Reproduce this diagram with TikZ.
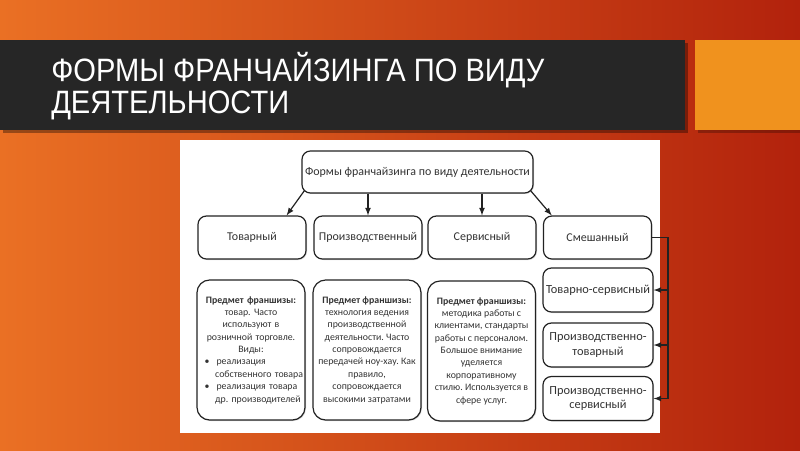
\documentclass[tikz,border=0pt]{standalone}
\usepackage{fontspec}
\setmainfont{Carlito}
\newfontfamily\titlefont[FakeStretch=0.9]{Liberation Sans}
\usetikzlibrary{shadows}
\frenchspacing

\definecolor{bgleft}{RGB}{234,112,36}
\definecolor{bgmid}{RGB}{216,80,26}
\definecolor{bgright}{RGB}{178,34,12}
\definecolor{titlebar}{RGB}{38,38,38}
\definecolor{accent}{RGB}{240,146,30}
\definecolor{boxline}{RGB}{34,34,34}
\definecolor{boxtext}{RGB}{51,51,51}

\tikzset{
  box/.style={draw=boxline, line width=0.85pt, rounded corners=6pt, fill=white,
    text=boxtext, align=center, inner sep=1pt,
    drop shadow={opacity=0.3, shadow xshift=0.7pt, shadow yshift=-0.7pt}},
  kind/.style={minimum width=2.7cm, minimum height=1.075cm, font=\fontsize{8.5}{10}\selectfont},
  about/.style={minimum width=2.7cm, minimum height=3.5cm, rounded corners=9pt,
    font=\fontsize{7}{8.8}\selectfont},
  mixed/.style={minimum width=2.75cm, minimum height=1.1cm, font=\fontsize{8.8}{10.5}\selectfont}
}

\begin{document}
\begin{tikzpicture}[x=0.025cm,y=-0.025cm,>=latex]
\useasboundingbox (0,0) rectangle (800,450);

% background and title
\shade[left color=bgleft, middle color=bgmid, right color=bgright] (0,0) rectangle (800,450);
\fill[black, opacity=0.35] (3,43) rectangle (688,133);
\fill[titlebar] (0,40) rectangle (685,130);
\fill[black, opacity=0.25] (698,43) rectangle (803,133);
\fill[accent] (695,40) rectangle (800,130);
\node[anchor=base west, inner sep=0, text=white, align=left,
  font=\titlefont\fontsize{23}{22.7}\selectfont] (title) at (51,113)
  {ФОРМЫ ФРАНЧАЙЗИНГА ПО ВИДУ\\ДЕЯТЕЛЬНОСТИ};
\fill[white] (180,140) rectangle (660,433);

\begin{scope}[every node/.style={box}]
  \node[minimum width=5.775cm, minimum height=1.05cm, font=\fontsize{8.5}{10}\selectfont]
    (1) at (417.5,172) {Формы франчайзинга по виду деятельности};
  \node[kind] (2) at (252,237.5) {Товарный};
  \node[kind] (3) at (368,237.5) {Производственный};
  \node[kind] (4) at (482,237.5) {Сервисный};
  \node[kind] (5) at (597.5,237.5) {Смешанный};
  \node[about, text width=72pt, inner xsep=0pt] (6) at (251,350) {%
    \textbf{Предмет франшизы:}\\
    товар. Часто\\
    используют в\\
    розничной торговле.\\
    Виды:\\
    \makebox[72pt][l]{\hspace{3pt}•\hspace{5pt}реализация}\\
    \makebox[72pt][l]{\hspace{10.5pt}собственного товара}\\
    \makebox[72pt][l]{\hspace{3pt}•\hspace{5pt}реализация товара}\\
    \makebox[72pt][l]{\hspace{10.5pt}др. производителей}};
  \node[about] (7) at (367,350) {%
    \textbf{Предмет франшизы:}\\
    технология ведения\\
    производственной\\
    деятельности. Часто\\
    сопровождается\\
    передачей ноу-хау. Как\\
    правило,\\
    сопровождается\\
    высокими затратами};
  \node[about] (8) at (481.5,351) {%
    \textbf{Предмет франшизы:}\\
    методика работы с\\
    клиентами, стандарты\\
    работы с персоналом.\\
    Большое внимание\\
    уделяется\\
    корпоративному\\
    стилю. Используется в\\
    сфере услуг.};
  \node[mixed] (9) at (598,290) {Товарно-сервисный};
  \node[mixed] (10) at (598,345) {Производственно-\\товарный};
  \node[mixed] (11) at (598,398.5) {Производственно-\\сервисный};
\end{scope}

\coordinate (bus) at (668,237.5);

\begin{scope}[every edge/.style={draw, ->, line width=0.85pt, boxline}]
  \path ([xshift=0.08cm,yshift=0.08cm]1.south west) edge ([xshift=-0.5cm]2.north east);
  \path (3.north |- 1.south) edge (3.north);
  \path (4.north |- 1.south) edge (4.north);
  \path ([xshift=-0.08cm,yshift=0.08cm]1.south east) edge ([xshift=0.22cm]5.north west);
  \path (bus |- 9.east) edge (9.east);
  \path (bus |- 10.east) edge (10.east);
\end{scope}
\draw[->, line width=0.85pt, boxline] (5.east) -- (bus) |- (11.east);

\end{tikzpicture}
\end{document}
